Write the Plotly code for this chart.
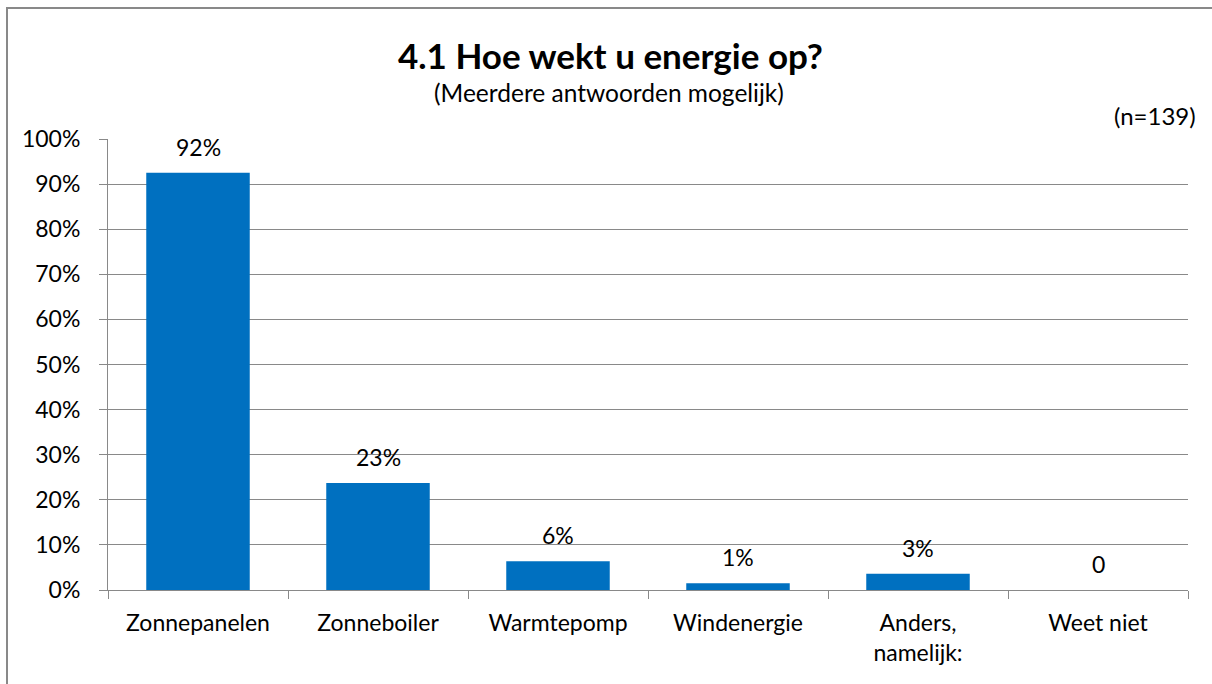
import plotly.graph_objects as go

categories = ["Zonnepanelen", "Zonneboiler", "Warmtepomp", "Windenergie", "Anders,<br>namelijk:", "Weet niet"]
values = [0.925, 0.237, 0.064, 0.015, 0.036, 0.0]
value_labels = ["92%", "23%", "6%", "1%", "3%", "0"]
y_ticks = [i / 10 for i in range(11)]
y_tick_labels = [f"{i*10}%" for i in range(11)]

FONT = "Lato"
GRID = "#898989"
TICK_SIZE = 23

fig = go.Figure()
fig.add_trace(go.Bar(
    x=categories, y=values,
    marker=dict(color="#0070C0", line=dict(width=0)),
    width=0.575, hoverinfo="skip",
))

for c, v, t in zip(categories, values, value_labels):
    fig.add_annotation(x=c, y=v, text=t, showarrow=False, yshift=26,
                       font=dict(family=FONT, size=TICK_SIZE, color="#000000"))

L, R, T, B = 108, 1188, 139, 590
W, H = R - L, B - T
def px(x): return (x - L) / W
def py(y): return (B - y) / H

fig.add_annotation(xref="paper", yref="paper", x=px(610), y=py(55), text="<b>4.1 Hoe wekt u energie op?</b>",
                   showarrow=False, xanchor="center", yanchor="middle",
                   font=dict(family=FONT, size=35, color="#000000"))
fig.add_annotation(xref="paper", yref="paper", x=px(609), y=py(93), text="(Meerdere antwoorden mogelijk)",
                   showarrow=False, xanchor="center", yanchor="middle",
                   font=dict(family=FONT, size=24.5, color="#000000"))
fig.add_annotation(xref="paper", yref="paper", x=px(1198), y=py(115), text="(n=139)",
                   showarrow=False, xanchor="right", yanchor="middle",
                   font=dict(family=FONT, size=24, color="#000000"))

bx0, by0, by1, bx1 = px(7), py(684), py(8), px(1212)
fig.add_shape(type="path", xref="paper", yref="paper",
              path=f"M {bx0},{by0} L {bx0},{by1} L {bx1},{by1}",
              line=dict(color=GRID, width=2), layer="below")

fig.update_layout(
    width=1212, height=684, autosize=False,
    margin=dict(l=L, r=1212 - R, t=T, b=684 - B, pad=0),
    paper_bgcolor="white", plot_bgcolor="white",
    showlegend=False,
    font=dict(family=FONT, size=TICK_SIZE, color="#000000"),
    bargap=0.425,
)
fig.update_xaxes(
    type="category", tickson="boundaries", ticks="outside", ticklen=8, tickcolor=GRID,
    ticklabelstandoff=12,
    showline=True, linecolor=GRID, linewidth=1, showgrid=False,
    tickfont=dict(family=FONT, size=TICK_SIZE, color="#000000"),
)
fig.update_yaxes(
    range=[0, 1], tickvals=y_ticks, ticktext=y_tick_labels,
    ticks="outside", ticklen=8, tickcolor=GRID, ticklabelstandoff=14,
    showline=True, linecolor=GRID, linewidth=1,
    showgrid=True, gridcolor=GRID, gridwidth=1, zeroline=False,
    tickfont=dict(family=FONT, size=TICK_SIZE, color="#000000"),
)

fig.write_html("out.html", config={"displayModeBar": False},
               post_script="document.body.style.margin='0';document.documentElement.style.overflow='hidden';")
